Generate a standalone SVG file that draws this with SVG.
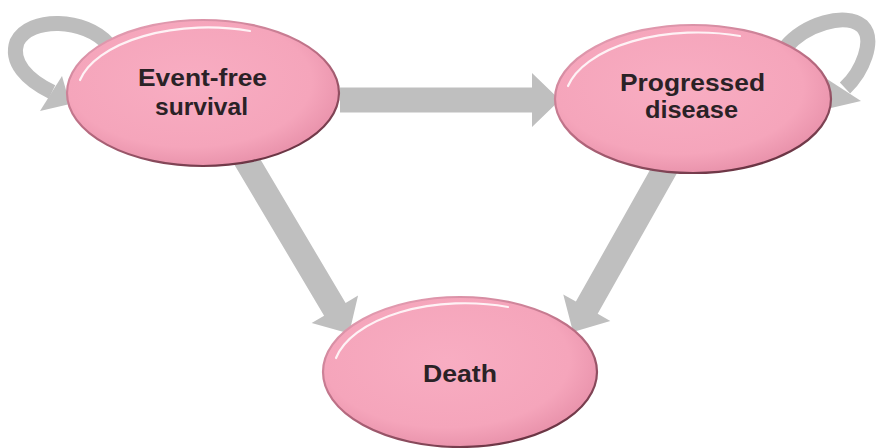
<svg xmlns="http://www.w3.org/2000/svg" width="877" height="448" viewBox="0 0 877 448">
  <defs>
    <radialGradient id="pinkFill" cx="0.45" cy="0.42" r="0.6">
      <stop offset="0" stop-color="#f8adc2"/>
      <stop offset="0.75" stop-color="#f5a5bb"/>
      <stop offset="1" stop-color="#e891aa"/>
    </radialGradient>
    <linearGradient id="pinkEdge" x1="0.2" y1="0" x2="0.8" y2="1">
      <stop offset="0" stop-color="#e7a0b5"/>
      <stop offset="0.5" stop-color="#b86b81"/>
      <stop offset="1" stop-color="#5e2c3a"/>
    </linearGradient>
    <style>
      .node { fill: url(#pinkFill); stroke: url(#pinkEdge); stroke-width: 2.2; }
      .hl { fill: none; stroke: #ffffff; stroke-opacity: 0.85; stroke-width: 2.2; stroke-linecap: round; }
      .label { font-family: "Liberation Sans", Arial, sans-serif; font-weight: bold; font-size: 23px; fill: #2a2226; text-anchor: middle; }
      .arrow { fill: #bfbfbf; }
      .loop { fill: none; stroke: #bdbdbd; stroke-width: 15; }
    </style>
  </defs>
  <rect width="877" height="448" fill="#ffffff"/>

  <g id="connectors">
    <path class="loop" d="M108,44 C85,18 30,16 17,42 C10,62 27,80 52,92"/>
    <polygon class="arrow" points="62,76 70,104 40,111"/>
    <path class="loop" d="M785,48 C805,24 845,12 862,26 C876,40 862,72 845,88"/>
    <polygon class="arrow" points="827,79 861,101 831,108"/>
    <polygon class="arrow" transform="translate(340,100)" points="0,-12.5 192,-12.5 192,-27 220,0 192,27 192,12.5 0,12.5"/>
    <polygon class="arrow" transform="translate(245,158) rotate(59.3)" points="0,-12.5 176,-12.5 176,-27 204,0 176,27 176,12.5 0,12.5"/>
    <polygon class="arrow" transform="translate(670,160) rotate(119.4)" points="0,-12.5 169.5,-12.5 169.5,-27 197.5,0 169.5,27 169.5,12.5 0,12.5"/>
  </g>

  <g id="event-free-survival">
    <ellipse class="node" cx="203" cy="93" rx="136" ry="73"/>
    <path class="hl" d="M80,80 A131,67 0 0 1 250,31"/>
    <text class="label" x="202.5" y="86" textLength="129" lengthAdjust="spacingAndGlyphs">Event-free</text>
    <text class="label" x="201.5" y="115" textLength="93" lengthAdjust="spacingAndGlyphs">survival</text>
  </g>

  <g id="progressed-disease">
    <ellipse class="node" cx="693" cy="99" rx="138" ry="74"/>
    <path class="hl" d="M568,86 A133,68 0 0 1 740,36"/>
    <text class="label" x="692.5" y="91" textLength="145" lengthAdjust="spacingAndGlyphs">Progressed</text>
    <text class="label" x="691.5" y="118" textLength="93" lengthAdjust="spacingAndGlyphs">disease</text>
  </g>

  <g id="death">
    <ellipse class="node" cx="460" cy="372" rx="137" ry="75"/>
    <path class="hl" d="M336,358 A132,69 0 0 1 508,307"/>
    <text class="label" x="460" y="382" textLength="74" lengthAdjust="spacingAndGlyphs">Death</text>
  </g>
</svg>
